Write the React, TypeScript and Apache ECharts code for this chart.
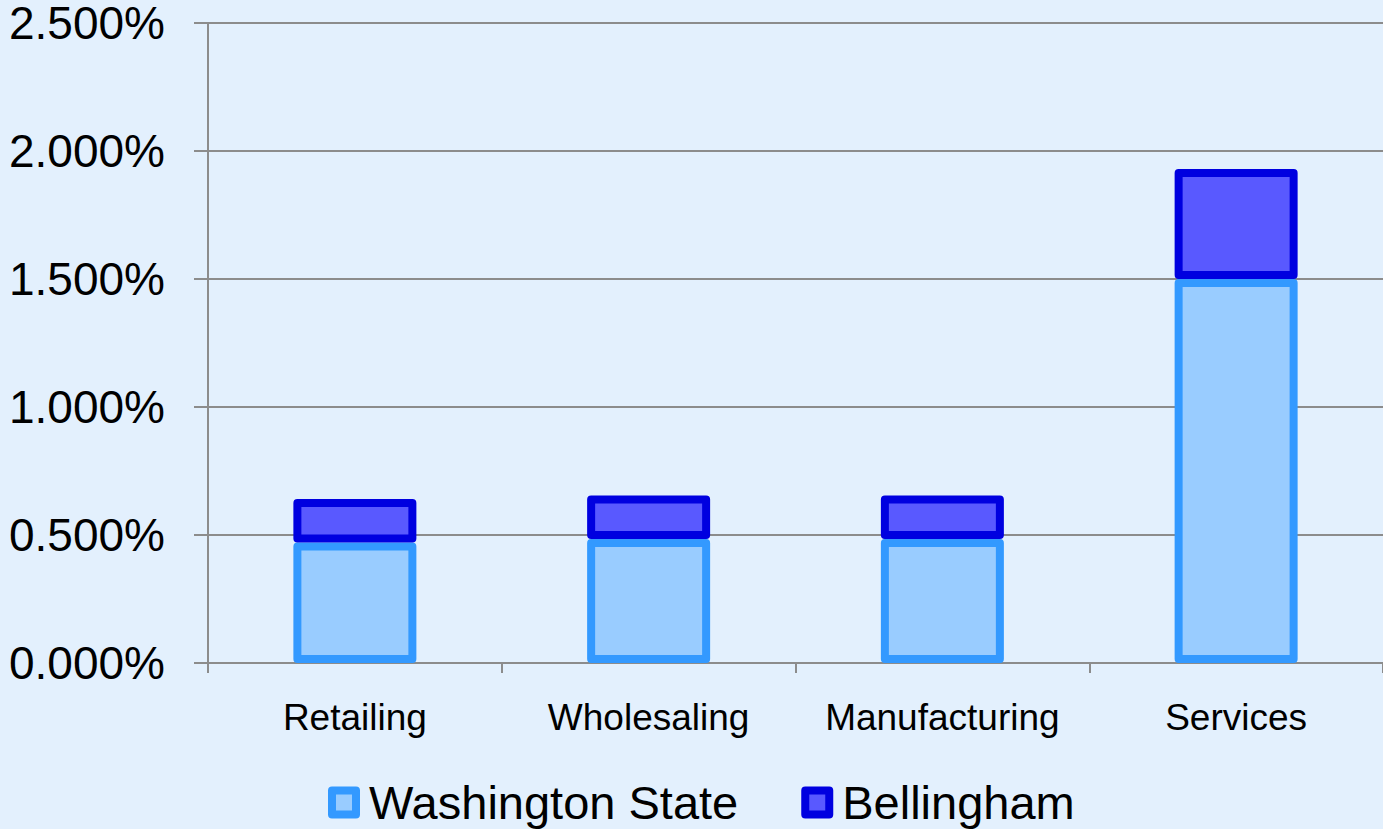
import React, { useEffect, useRef } from "react";
import * as echarts from "echarts";

const categories = ["Retailing", "Wholesaling", "Manufacturing", "Services"];
const washingtonState = [0.471, 0.484, 0.484, 1.5];
const bellingham = [0.17, 0.17, 0.17, 0.43];
const seriesNames = ["Washington State", "Bellingham"];

const FONT = "'Liberation Sans', Arial, sans-serif";

export default function App() {
  const ref = useRef<HTMLDivElement>(null);
  useEffect(() => {
    if (!ref.current) return;
    const chart = echarts.init(ref.current, undefined, { renderer: "svg" });
    chart.setOption({
      animation: false,
      backgroundColor: "#E3F0FD",
      textStyle: { fontFamily: FONT, color: "#000" },
      grid: { left: 208, top: 20, right: 0, bottom: 166, containLabel: false },
      legend: {
        data: seriesNames,
        top: 779,
        left: 328,
        padding: 0,
        icon: "rect",
        itemWidth: 24,
        itemHeight: 24,
        itemGap: 63,
        itemStyle: { borderWidth: 8 },
        textStyle: { fontSize: 47, fontFamily: FONT, color: "#000", padding: [0, 0, 0, 8] },
      },
      xAxis: {
        type: "category",
        data: categories,
        axisLine: { show: true, lineStyle: { color: "#8C8C8C", width: 2 } },
        axisTick: { show: true, interval: 0, length: 10, lineStyle: { color: "#8C8C8C", width: 2 } },
        axisLabel: { interval: 0, fontSize: 37, fontFamily: FONT, color: "#000", margin: 36 },
        splitLine: { show: false },
      },
      yAxis: {
        type: "value",
        min: 0,
        max: 2.5,
        interval: 0.5,
        axisLine: { show: true, lineStyle: { color: "#8C8C8C", width: 2 } },
        axisTick: { show: true, length: 14, lineStyle: { color: "#8C8C8C", width: 2 } },
        axisLabel: {
          fontSize: 46,
          fontFamily: FONT,
          color: "#000",
          margin: 43,
          formatter: (v: number) => v.toFixed(3) + "%",
        },
        splitLine: { show: true, lineStyle: { color: "#8C8C8C", width: 2 } },
      },
      series: [
        {
          name: seriesNames[0],
          type: "bar",
          stack: "total",
          data: washingtonState,
          barWidth: 123,
          itemStyle: {
            color: "#99CCFF",
            borderColor: "#3399FF",
            borderWidth: 8,
            borderJoin: "round",
          },
        },
        {
          name: seriesNames[1],
          type: "bar",
          stack: "total",
          data: bellingham,
          barWidth: 123,
          itemStyle: {
            color: "#5959FF",
            borderColor: "#0000E0",
            borderWidth: 8,
            borderJoin: "round",
          },
        },
      ],
    });
    return () => chart.dispose();
  }, []);
  return (
    <div
      ref={ref}
      style={{ position: "fixed", left: 0, top: 0, width: 1383, height: 829 }}
    />
  );
}
